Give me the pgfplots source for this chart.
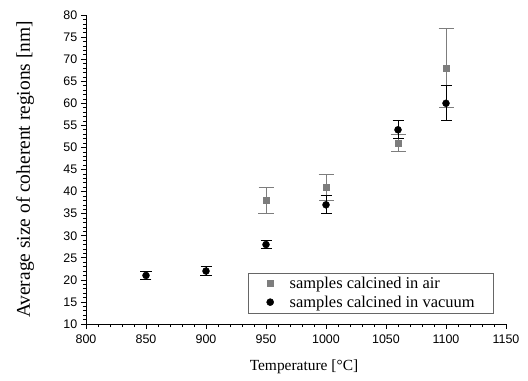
\documentclass[border=0pt]{standalone}
\usepackage{pgfplots}
\pgfplotsset{compat=1.18}
\usepackage{fontspec}
\setmainfont{Liberation Serif}
\newfontfamily\arialfont{Liberation Sans}
\definecolor{airgray}{RGB}{125,125,125}
\pgfplotstableread{
x y e
950 38 3
1000 41 3
1060 51 2
1100 68 9
}\airdata
\pgfplotstableread{
x y e
850 21 1
900 22 1
950 28 1
1000 37 2
1060 54 2
1100 60 4
}\vacdata
\pgfplotsset{myleg/.style={legend image code/.code={\path[draw=none,fill=none] (0bp,-9.3bp) rectangle (22bp,9.3bp); \draw[##1] plot coordinates {(3.5bp,0bp)};}}}
\begin{document}
\begin{tikzpicture}
\useasboundingbox (-86bp,-57bp) rectangle (442bp,324bp);
\begin{axis}[
 at={(0,0)}, anchor=south west,
 scale only axis, width=420bp, height=309bp,
 xmin=800, xmax=1150, ymin=10, ymax=80,
 xtick distance=50, ytick distance=5,
 minor x tick num=4, minor y tick num=4,
 axis x line*=bottom, axis y line*=left,
 tick align=outside,
 major tick length=5bp, minor tick length=3bp,
 axis line style={-, black, line width=0.8pt},
 every tick/.style={black, line width=0.6pt},
 /pgf/number format/assume math mode=true,
 /pgf/number format/1000 sep={},
 tick label style={font=\arialfont\fontsize{12.5}{14}\selectfont},
 xticklabel style={yshift=-2bp},
 yticklabel style={xshift=-0.3bp},
 xlabel={Temperature [°C]},
 ylabel={Average size of coherent regions [nm]},
 xlabel style={font=\fontsize{15.5}{18}\selectfont, at={(axis description cs:0.519,-0.139)}, anchor=center},
 ylabel style={font=\fontsize{19.5}{22}\selectfont, at={(axis description cs:-0.145,0.5)}, anchor=center},
 legend style={at={(axis description cs:0.971,0.0356)}, anchor=south east, draw=black!60, line width=0.5pt,
   font=\fontsize{16.5}{19}\selectfont, inner xsep=18bp, inner ysep=1.3bp, row sep=0bp,
   nodes={inner sep=1bp}},
 legend cell align=left,
]
\addplot[only marks, mark=square*, mark size=3bp, color=airgray,
  mark options={fill=airgray, draw=airgray}, myleg,
  error bars/.cd, y dir=both, y explicit,
  error bar style={airgray, line width=0.8pt},
  error mark options={rotate=90, mark size=7.5bp, airgray, line width=0.8pt}]
  table[x=x, y=y, y error=e] {\airdata};
\addlegendentry{samples calcined in air}
\addplot[only marks, mark=*, mark size=3.5bp, color=black,
  mark options={fill=black, draw=black}, myleg,
  error bars/.cd, y dir=both, y explicit,
  error bar style={black, line width=1pt},
  error mark options={rotate=90, mark size=5.5bp, black, line width=1pt}]
  table[x=x, y=y, y error=e] {\vacdata};
\addlegendentry{samples calcined in vacuum}
\end{axis}
\end{tikzpicture}
\end{document}
